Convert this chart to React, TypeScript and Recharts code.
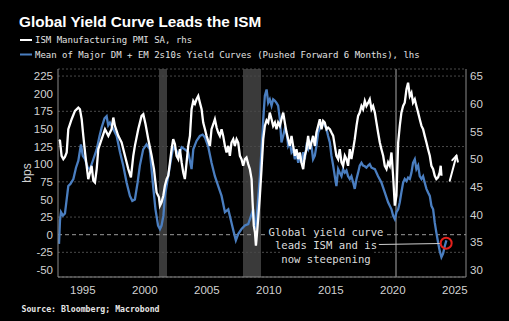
import React from "react";
import { LineChart, Line, XAxis, YAxis, CartesianGrid, ReferenceLine, ReferenceDot } from "recharts";

// Mean of major DM + EM 2s10s curves (bps, pushed forward 6m), lhs
const curveYears = [
  1993.08, 1993.16, 1993.24, 1993.4, 1993.56, 1993.7, 1993.83, 1994.0, 1994.24, 1994.45, 1994.64, 1994.85,
  1995.0, 1995.18, 1995.4, 1995.58, 1995.85, 1996.12, 1996.35, 1996.52, 1996.75, 1996.92, 1997.05, 1997.19,
  1997.46, 1997.73, 1998.0, 1998.26, 1998.53, 1998.8, 1998.99, 1999.2, 1999.42, 1999.6, 1999.87, 2000.14,
  2000.4, 2000.67, 2000.86, 2001.07, 2001.22, 2001.35, 2001.5, 2001.62, 2001.89, 2002.16, 2002.29, 2002.56,
  2002.7, 2002.97, 2003.23, 2003.5, 2003.77, 2003.91, 2004.17, 2004.44, 2004.66, 2004.85, 2005.11, 2005.38,
  2005.65, 2005.92, 2006.19, 2006.46, 2006.73, 2006.99, 2007.18, 2007.34, 2007.53, 2007.8, 2008.07, 2008.34,
  2008.53, 2008.74, 2008.88, 2009.01, 2009.28, 2009.41, 2009.55, 2009.68, 2009.82, 2009.95, 2010.08, 2010.22,
  2010.35, 2010.49, 2010.62, 2010.75, 2010.89, 2011.02, 2011.16, 2011.29, 2011.43, 2011.56, 2011.69, 2011.83,
  2011.96, 2012.1, 2012.23, 2012.37, 2012.5, 2012.63, 2012.77, 2012.9, 2013.04, 2013.17, 2013.31, 2013.44,
  2013.57, 2013.71, 2013.84, 2013.98, 2014.11, 2014.25, 2014.38, 2014.51, 2014.65, 2014.78, 2014.92, 2015.05,
  2015.19, 2015.32, 2015.45, 2015.59, 2015.72, 2015.86, 2015.99, 2016.13, 2016.26, 2016.39, 2016.53, 2016.66,
  2016.8, 2016.93, 2017.07, 2017.2, 2017.33, 2017.47, 2017.6, 2017.74, 2017.87, 2018.01, 2018.14, 2018.28,
  2018.55, 2018.81, 2019.08, 2019.35, 2019.62, 2019.89, 2020.02, 2020.16, 2020.29, 2020.43, 2020.56, 2020.69,
  2020.83, 2020.96, 2021.1, 2021.23, 2021.37, 2021.5, 2021.63, 2021.77, 2021.9, 2022.04, 2022.17, 2022.31,
  2022.44, 2022.57, 2022.71, 2022.84, 2022.98, 2023.11, 2023.25, 2023.38, 2023.51, 2023.65, 2023.78, 2023.92,
  2024.05, 2024.19, 2024.32,
];
const curveValues = [
  -13, 20, 32, 27, 30, 50, 69, 72, 79, 95, 105, 128,
  112, 107, 95, 93, 107, 121, 140, 152, 165, 168, 155, 159,
  150, 140, 117, 98, 74, 55, 48, 50, 74, 98, 121, 128,
  121, 69, 36, 13, 8, 13, 27, 55, 83, 112, 124, 119,
  112, 124, 121, 117, 93, 121, 133, 140, 142, 138, 125, 102,
  83, 69, 55, 32, 36, 17, 3, -8, 1, 8, 13, 15,
  25, 36, 8, 22, 83, 121, 164, 197, 206, 187, 192, 183,
  192, 190, 187, 183, 164, 131, 140, 150, 145, 126, 131, 117,
  121, 107, 117, 102, 112, 102, 117, 107, 126, 121, 131, 126,
  107, 112, 126, 145, 150, 157, 159, 155, 150, 140, 131, 112,
  98, 83, 69, 93, 88, 83, 93, 88, 91, 83, 79, 83,
  74, 65, 79, 88, 98, 102, 98, 97, 95, 98, 100, 95,
  93, 83, 74, 60, 46, 36, 27, 22, 32, 36, 46, 60,
  74, 79, 76, 81, 79, 88, 102, 107, 93, 98, 83, 79,
  83, 74, 65, 60, 55, 41, 36, 17, 3, -11, -23, -32,
  -27, -16, -8,
];

// ISM Manufacturing PMI SA, rhs
const ismYears = [
  1993.08, 1993.16, 1993.29, 1993.43, 1993.56, 1993.7, 1993.83, 1994.1, 1994.37, 1994.64, 1994.77, 1994.91,
  1995.04, 1995.18, 1995.31, 1995.44, 1995.58, 1995.71, 1995.85, 1995.98, 1996.12, 1996.25, 1996.52, 1996.79,
  1997.06, 1997.32, 1997.46, 1997.59, 1997.86, 1998.13, 1998.4, 1998.67, 1998.88, 1999.07, 1999.2, 1999.47,
  1999.74, 1999.88, 2000.06, 2000.28, 2000.55, 2000.74, 2000.95, 2001.14, 2001.22, 2001.35, 2001.49, 2001.62,
  2001.76, 2001.89, 2002.03, 2002.16, 2002.29, 2002.43, 2002.56, 2002.7, 2002.83, 2002.97, 2003.1, 2003.23,
  2003.37, 2003.5, 2003.64, 2003.77, 2003.91, 2004.04, 2004.17, 2004.31, 2004.44, 2004.58, 2004.71, 2004.85,
  2004.98, 2005.11, 2005.25, 2005.38, 2005.52, 2005.65, 2005.79, 2005.92, 2006.05, 2006.19, 2006.32, 2006.46,
  2006.59, 2006.73, 2006.86, 2006.99, 2007.13, 2007.26, 2007.4, 2007.53, 2007.67, 2007.8, 2007.93, 2008.07,
  2008.2, 2008.34, 2008.47, 2008.61, 2008.69, 2008.79, 2008.88, 2008.96, 2009.01, 2009.14, 2009.28, 2009.41,
  2009.55, 2009.68, 2009.82, 2009.95, 2010.08, 2010.22, 2010.35, 2010.49, 2010.62, 2010.75, 2010.89, 2011.02,
  2011.16, 2011.29, 2011.43, 2011.56, 2011.69, 2011.83, 2011.96, 2012.1, 2012.23, 2012.37, 2012.5, 2012.63,
  2012.77, 2012.9, 2013.04, 2013.17, 2013.31, 2013.44, 2013.57, 2013.71, 2013.84, 2013.98, 2014.11, 2014.25,
  2014.38, 2014.51, 2014.65, 2014.78, 2014.92, 2015.05, 2015.19, 2015.32, 2015.45, 2015.59, 2015.72, 2015.86,
  2015.99, 2016.13, 2016.26, 2016.39, 2016.53, 2016.66, 2016.8, 2016.93, 2017.07, 2017.2, 2017.33, 2017.47,
  2017.6, 2017.74, 2017.87, 2018.01, 2018.14, 2018.28, 2018.41, 2018.55, 2018.68, 2018.81, 2018.95, 2019.08,
  2019.22, 2019.35, 2019.49, 2019.62, 2019.75, 2019.89, 2020.02, 2020.16, 2020.29, 2020.43, 2020.56, 2020.69,
  2020.83, 2020.96, 2021.1, 2021.23, 2021.37, 2021.5, 2021.63, 2021.77, 2021.9, 2022.04, 2022.17, 2022.31,
  2022.44, 2022.57, 2022.71, 2022.84, 2022.98, 2023.11, 2023.25, 2023.38, 2023.51, 2023.65, 2023.78, 2023.86,
  2023.92,
];
const ismValues = [
  53.5, 53.3, 50.6, 50.0, 50.4, 51.2, 55.4, 57.2, 58.7, 59.3, 59.0, 57.2,
  54.2, 51.2, 48.8, 46.4, 47.6, 48.8, 46.1, 45.8, 48.2, 51.8, 53.6, 55.4,
  54.2, 55.4, 57.5, 56.0, 54.2, 53.0, 50.6, 48.2, 46.7, 50.6, 52.4, 55.4,
  57.8, 58.1, 56.3, 53.6, 50.6, 48.2, 44.0, 43.1, 41.6, 42.2, 43.4, 45.2,
  46.4, 47.0, 49.4, 51.8, 53.6, 52.7, 50.6, 50.0, 51.8, 49.4, 47.6, 46.4,
  49.4, 52.4, 54.2, 59.0, 60.5, 60.0, 60.8, 61.4, 60.2, 59.0, 56.6, 55.4,
  54.2, 53.3, 52.4, 55.4, 56.3, 57.2, 55.7, 54.8, 54.2, 55.4, 54.2, 52.4,
  51.2, 52.4, 50.6, 53.0, 53.6, 52.4, 53.6, 53.0, 50.6, 50.0, 48.8, 50.0,
  50.3, 49.1, 48.2, 46.4, 42.2, 38.0, 36.8, 34.4, 35.6, 39.2, 43.4, 48.2,
  53.6, 56.0, 57.0, 56.6, 58.4, 57.2, 56.0, 56.6, 55.4, 56.6, 56.0, 57.2,
  58.4, 56.6, 54.8, 53.6, 52.4, 54.2, 52.4, 50.6, 51.8, 50.0, 51.2, 49.4,
  48.2, 50.6, 51.8, 54.2, 51.8, 53.0, 54.2, 52.4, 54.8, 56.0, 57.2, 55.4,
  56.9, 56.6, 55.4, 55.7, 55.4, 54.8, 54.2, 52.4, 50.6, 50.0, 51.8, 49.4,
  48.8, 50.6, 50.0, 48.8, 51.8, 50.0, 51.8, 53.6, 56.0, 57.8, 58.4, 59.6,
  59.0, 60.5, 59.6, 60.2, 60.8, 59.0, 59.6, 58.4, 56.6, 54.8, 53.0, 51.8,
  50.6, 48.8, 48.2, 49.4, 48.8, 51.2, 47.0, 41.6, 43.4, 53.0, 56.0, 58.4,
  59.6, 60.2, 62.6, 63.8, 61.4, 62.0, 60.2, 60.8, 59.6, 58.4, 57.2, 56.0,
  55.4, 54.2, 53.0, 51.8, 50.6, 48.8, 48.2, 47.0, 46.4, 46.7, 47.6, 48.8,
  47.0,
];

// US recessions (shaded)
const recessionStarts = [2001.17, 2007.9, 2020.14];
const recessionEnds = [2001.82, 2009.37, 2020.3];

const X_DOMAIN = [1993, 2025.9];
const xTicks = [1995, 2000, 2005, 2010, 2015, 2020, 2025];
const bpsTicks = [-50, -25, 0, 25, 50, 75, 100, 125, 150, 175, 200, 225];
const ismTicks = [30, 35, 40, 45, 50, 55, 60, 65];

const curveData = curveYears.map((x, i) => ({ x, v: curveValues[i] }));
const ismData = ismYears.map((x, i) => ({ x, v: ismValues[i] }));

const BLUE = "#4a7ec0";
const TICK = { fill: "#d2d2d2", fontSize: 11.5, fontFamily: "Liberation Sans, Arial, sans-serif" };
const MONO = "DejaVu Sans Mono, monospace";

// stripes alternate: gap, recession, gap, recession ...
const stripeFill = ["none", "#3a3a3a", "none", "#3a3a3a", "none", "#555555", "none"];

const recessionEdges = ({ xAxis, offset }: any) => {
  const toPx =
    xAxis && typeof xAxis.scale === "function"
      ? (v: number) => xAxis.scale(v)
      : (v: number) => offset.left + ((v - X_DOMAIN[0]) / (X_DOMAIN[1] - X_DOMAIN[0])) * offset.width;
  const out: number[] = [];
  recessionStarts.forEach((s, i) => {
    out.push(toPx(s), toPx(recessionEnds[i]));
  });
  return out;
};

const Arrow = (props: any) => {
  const { x1, y1, x2, y2 } = props;
  const a = Math.atan2(y2 - y1, x2 - x1);
  const L = 6;
  const p1 = [x2 - L * Math.cos(a - 0.5), y2 - L * Math.sin(a - 0.5)];
  const p2 = [x2 - L * Math.cos(a + 0.5), y2 - L * Math.sin(a + 0.5)];
  return (
    <g stroke="#fff" strokeWidth={2} fill="none" strokeLinecap="round">
      <line x1={x1} y1={y1} x2={x2} y2={y2} />
      <polyline points={`${p1[0]},${p1[1]} ${x2},${y2} ${p2[0]},${p2[1]}`} />
    </g>
  );
};

export default function App() {
  return (
    <div style={{ position: "absolute", left: 0, top: 0, width: 509, height: 321, background: "#000" }}>
      <LineChart width={509} height={321} margin={{ top: 69, right: 0, left: 18, bottom: 14 }}>
        <CartesianGrid
          yAxisId="left"
          horizontal={false}
          stroke="none"
          verticalFill={stripeFill}
          fillOpacity={1}
          verticalCoordinatesGenerator={recessionEdges}
        />
        <CartesianGrid yAxisId="left" vertical={false} stroke="#4a4a4a" strokeDasharray="2 2" />
        <XAxis
          dataKey="x"
          type="number"
          domain={X_DOMAIN}
          ticks={xTicks}
          allowDataOverflow
          stroke="#8a8a8a"
          tick={TICK}
          tickLine={false}
          tickSize={0}
          tickMargin={9}
          height={30}
        />
        <YAxis
          yAxisId="left"
          type="number"
          domain={[-60, 235]}
          ticks={bpsTicks}
          allowDataOverflow
          stroke="#8a8a8a"
          tick={TICK}
          tickLine={false}
          tickSize={0}
          tickMargin={5}
          width={40}
        />
        <YAxis
          yAxisId="right"
          orientation="right"
          type="number"
          domain={[28.727, 66.27]}
          ticks={ismTicks}
          allowDataOverflow
          stroke="#8a8a8a"
          tick={TICK}
          tickLine={false}
          tickSize={0}
          tickMargin={4}
          width={43}
        />
        <ReferenceLine yAxisId="left" y={0} stroke="#9a9a9a" strokeDasharray="4 3" />
        <Line
          yAxisId="left"
          data={curveData}
          dataKey="v"
          type="linear"
          stroke={BLUE}
          strokeWidth={2.3}
          dot={false}
          isAnimationActive={false}
        />
        <Line
          yAxisId="right"
          data={ismData}
          dataKey="v"
          type="linear"
          stroke="#ffffff"
          strokeWidth={2.3}
          dot={false}
          isAnimationActive={false}
        />
        <ReferenceLine
          yAxisId="left"
          segment={[{ x: 2018.87, y: -13.9 }, { x: 2023.86, y: -12.5 }]}
          stroke="#cfcfcf"
          strokeWidth={1}
        />
        <ReferenceDot yAxisId="left" x={2024.3} y={-12} r={5.5} fill="none" stroke="#e3211c" strokeWidth={2} />
        <ReferenceLine
          yAxisId="right"
          segment={[{ x: 2024.59, y: 46.1 }, { x: 2025.13, y: 50.6 }]}
          shape={Arrow}
        />
      </LineChart>
      <svg width={509} height={321} style={{ position: "absolute", left: 0, top: 0, pointerEvents: "none" }}>
        <text x={19} y={27} fill="#fff" fontSize={15.3} fontWeight="bold" fontFamily="Liberation Sans, Arial, sans-serif">
          Global Yield Curve Leads the ISM
        </text>
        <line x1={20} y1={40} x2={32} y2={40} stroke="#fff" strokeWidth={2} />
        <text x={35} y={43.2} fill="#e2e2e2" fontSize={9} fontFamily={MONO}>
          ISM Manufacturing PMI SA, rhs
        </text>
        <line x1={20} y1={54.5} x2={32} y2={54.5} stroke={BLUE} strokeWidth={2} />
        <text x={35} y={57.6} fill="#e2e2e2" fontSize={9} fontFamily={MONO}>
          Mean of Major DM + EM 2s10s Yield Curves (Pushed Forward 6 Months), lhs
        </text>
        <text
          x={27}
          y={173}
          transform="rotate(-90 27 173)"
          textAnchor="middle"
          dominantBaseline="central"
          fill="#d2d2d2"
          fontSize={12}
          fontFamily="Liberation Sans, Arial, sans-serif"
        >
          bps
        </text>
        <rect x={266} y={225} width={120} height={13} fill="#000" />
        <rect x={273} y={238} width={105} height={13} fill="#000" />
        <rect x={280} y={251} width={92} height={14} fill="#000" />
        <g fill="#dcdcdc" fontSize={10.6} fontFamily={MONO} textAnchor="middle">
          <text x={326} y={235.8}>Global yield curve</text>
          <text x={326} y={249.2}>leads ISM and is</text>
          <text x={326} y={262.6}>now steepening</text>
        </g>
        <text x={21.5} y={311.8} fill="#e6e6e6" fontSize={8.2} fontWeight="bold" fontFamily={MONO}>
          Source: Bloomberg; Macrobond
        </text>
      </svg>
    </div>
  );
}
